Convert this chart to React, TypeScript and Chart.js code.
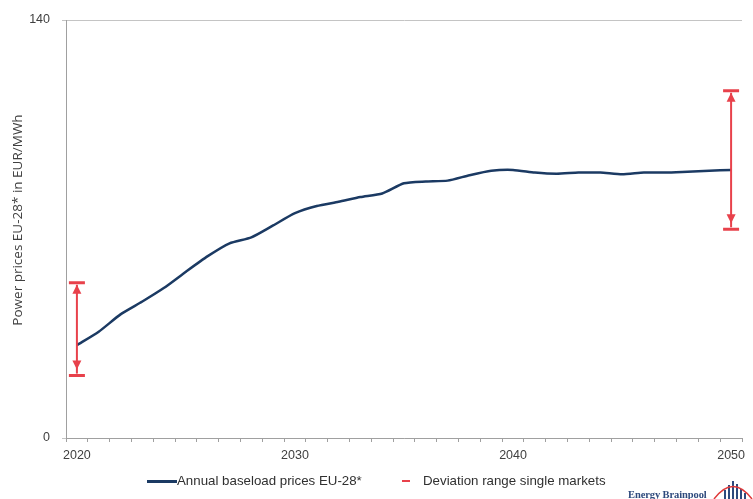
import React, { useEffect, useRef } from "react";
import { Chart, registerables } from "chart.js";

Chart.register(...registerables);

const years: string[] = [
  "2020", "2021", "2022", "2023", "2024", "2025", "2026", "2027", "2028", "2029",
  "2030", "2031", "2032", "2033", "2034", "2035", "2036", "2037", "2038", "2039",
  "2040", "2041", "2042", "2043", "2044", "2045", "2046", "2047", "2048", "2049", "2050",
];

const baseloadPrices: number[] = [
  31.1, 35.6, 41.4, 45.7, 50.3, 55.7, 60.9, 65.2, 67.2, 71.2,
  75.3, 77.7, 79.1, 80.7, 81.9, 85.3, 85.9, 86.2, 88.0, 89.5,
  89.8, 88.9, 88.5, 88.9, 88.9, 88.3, 88.9, 88.9, 89.2, 89.5, 89.8,
];

const rangeYears: string[] = ["2020", "2050"];
const rangeLow: number[] = [20.9, 69.9];
const rangeHigh: number[] = [52.0, 116.3];

const yTicks: number[] = [0, 140];
const yTitle = "Power prices EU-28* in EUR/MWh";

const NAVY = "#1b3a63";
const RED = "#e8414b";
const TEXT = "#404040";
const FONT = "'Liberation Sans', Arial, sans-serif";

const rangePlugin = {
  id: "rangeBars",
  afterDatasetsDraw(chart: any) {
    const ctx = chart.ctx;
    const xs = chart.scales.x;
    const ys = chart.scales.y;
    ctx.save();
    rangeYears.forEach((yr, i) => {
      const idx = years.indexOf(yr);
      const x = xs.getPixelForValue(idx);
      const yTop = ys.getPixelForValue(rangeHigh[i]);
      const yBot = ys.getPixelForValue(rangeLow[i]);
      ctx.strokeStyle = RED;
      ctx.fillStyle = RED;
      ctx.lineWidth = 2;
      ctx.beginPath();
      ctx.moveTo(x, yTop + 2);
      ctx.lineTo(x, yBot - 2);
      ctx.stroke();
      ctx.lineWidth = 3;
      ctx.beginPath();
      ctx.moveTo(x - 8, yTop);
      ctx.lineTo(x + 8, yTop);
      ctx.moveTo(x - 8, yBot);
      ctx.lineTo(x + 8, yBot);
      ctx.stroke();
      ctx.beginPath();
      ctx.moveTo(x, yTop + 2);
      ctx.lineTo(x - 4.5, yTop + 11);
      ctx.lineTo(x + 4.5, yTop + 11);
      ctx.closePath();
      ctx.fill();
      ctx.beginPath();
      ctx.moveTo(x, yBot - 6);
      ctx.lineTo(x - 4.5, yBot - 15);
      ctx.lineTo(x + 4.5, yBot - 15);
      ctx.closePath();
      ctx.fill();
    });
    ctx.restore();
  },
};

const titlePlugin = {
  id: "yTitle",
  afterDraw(chart: any) {
    const ctx = chart.ctx;
    ctx.save();
    ctx.translate(18, 220);
    ctx.rotate(-Math.PI / 2);
    ctx.font = "13.5px 'Open Sans', 'DejaVu Sans', sans-serif";
    ctx.fillStyle = TEXT;
    ctx.textAlign = "center";
    ctx.textBaseline = "middle";
    ctx.fillText(yTitle, 0, 0);
    ctx.restore();
  },
};

export default function App() {
  const canvasRef = useRef<HTMLCanvasElement | null>(null);

  useEffect(() => {
    if (!canvasRef.current) return;
    const chart = new Chart(canvasRef.current, {
      type: "line",
      data: {
        labels: years,
        datasets: [
          {
            label: "Annual baseload prices EU-28*",
            data: baseloadPrices,
            borderColor: NAVY,
            borderWidth: 2.5,
            pointRadius: 0,
            tension: 0.2,
            fill: false,
          },
        ],
      },
      options: {
        animation: false,
        responsive: false,
        maintainAspectRatio: false,
        layout: { padding: { top: 20, right: 11, bottom: 31, left: 0 } },
        plugins: {
          legend: { display: false },
          tooltip: { enabled: false },
        },
        scales: {
          x: {
            type: "category",
            offset: true,
            grid: {
              offset: true,
              drawOnChartArea: false,
              drawTicks: true,
              tickLength: 4,
              color: "#a0a0a0",
            },
            border: { color: "#a0a0a0", width: 1 },
            ticks: {
              autoSkip: false,
              maxRotation: 0,
              padding: 6,
              color: TEXT,
              font: { family: FONT, size: 12.5 },
              callback: (_v: any, i: number) =>
                parseInt(years[i], 10) % 10 === 0 ? years[i] : "",
            },
            afterFit: (s: any) => {
              s.height = 30;
            },
          },
          y: {
            min: 0,
            max: 140,
            afterBuildTicks: (s: any) => {
              s.ticks = yTicks.map((v) => ({ value: v }));
            },
            grid: {
              color: "#c4c4c4",
              drawTicks: true,
              tickLength: 4,
            },
            border: { color: "#a0a0a0", width: 1 },
            ticks: {
              padding: 12,
              color: TEXT,
              font: { family: FONT, size: 12.5 },
            },
            afterFit: (s: any) => {
              s.width = 66;
            },
          },
        },
      },
      plugins: [rangePlugin, titlePlugin],
    });
    return () => chart.destroy();
  }, []);

  const legendText: React.CSSProperties = {
    position: "absolute",
    top: 473,
    fontFamily: FONT,
    fontSize: 13.3,
    color: "#303030",
    whiteSpace: "nowrap",
    lineHeight: "16px",
  };

  return (
    <div
      style={{
        position: "fixed",
        left: 0,
        top: 0,
        width: 753,
        height: 499,
        background: "#ffffff",
        overflow: "hidden",
      }}
    >
      <canvas ref={canvasRef} width={753} height={499} style={{ display: "block" }} />
      <div style={{ position: "absolute", left: 147, top: 480, width: 30, height: 3, background: NAVY }} />
      <div style={{ ...legendText, left: 177 }}>Annual baseload prices EU-28*</div>
      <div style={{ position: "absolute", left: 402, top: 480, width: 8, height: 2, background: RED }} />
      <div style={{ ...legendText, left: 423 }}>Deviation range single markets</div>
      <div
        style={{
          position: "absolute",
          left: 628,
          top: 488,
          fontFamily: "'Liberation Serif', 'DejaVu Serif', serif",
          fontWeight: "bold",
          fontSize: 10.5,
          letterSpacing: "-0.1px",
          color: "#2e4a7d",
          whiteSpace: "nowrap",
          lineHeight: "14px",
        }}
      >
        Energy Brainpool
      </div>
      <svg style={{ position: "absolute", left: 710, top: 480 }} width={43} height={19}>
        <rect x={14} y={10} width={2} height={9} fill="#2e4a7d" />
        <rect x={18} y={5} width={2} height={14} fill="#2e4a7d" />
        <rect x={22} y={1} width={2} height={18} fill="#2e4a7d" />
        <rect x={26} y={4} width={2} height={15} fill="#2e4a7d" />
        <rect x={30} y={9} width={2} height={10} fill="#2e4a7d" />
        <rect x={34} y={13} width={2} height={6} fill="#2e4a7d" />
        <path d="M4 19 Q 23 -6 42 19" stroke="#e03a3a" strokeWidth={1.5} fill="none" />
      </svg>
    </div>
  );
}
